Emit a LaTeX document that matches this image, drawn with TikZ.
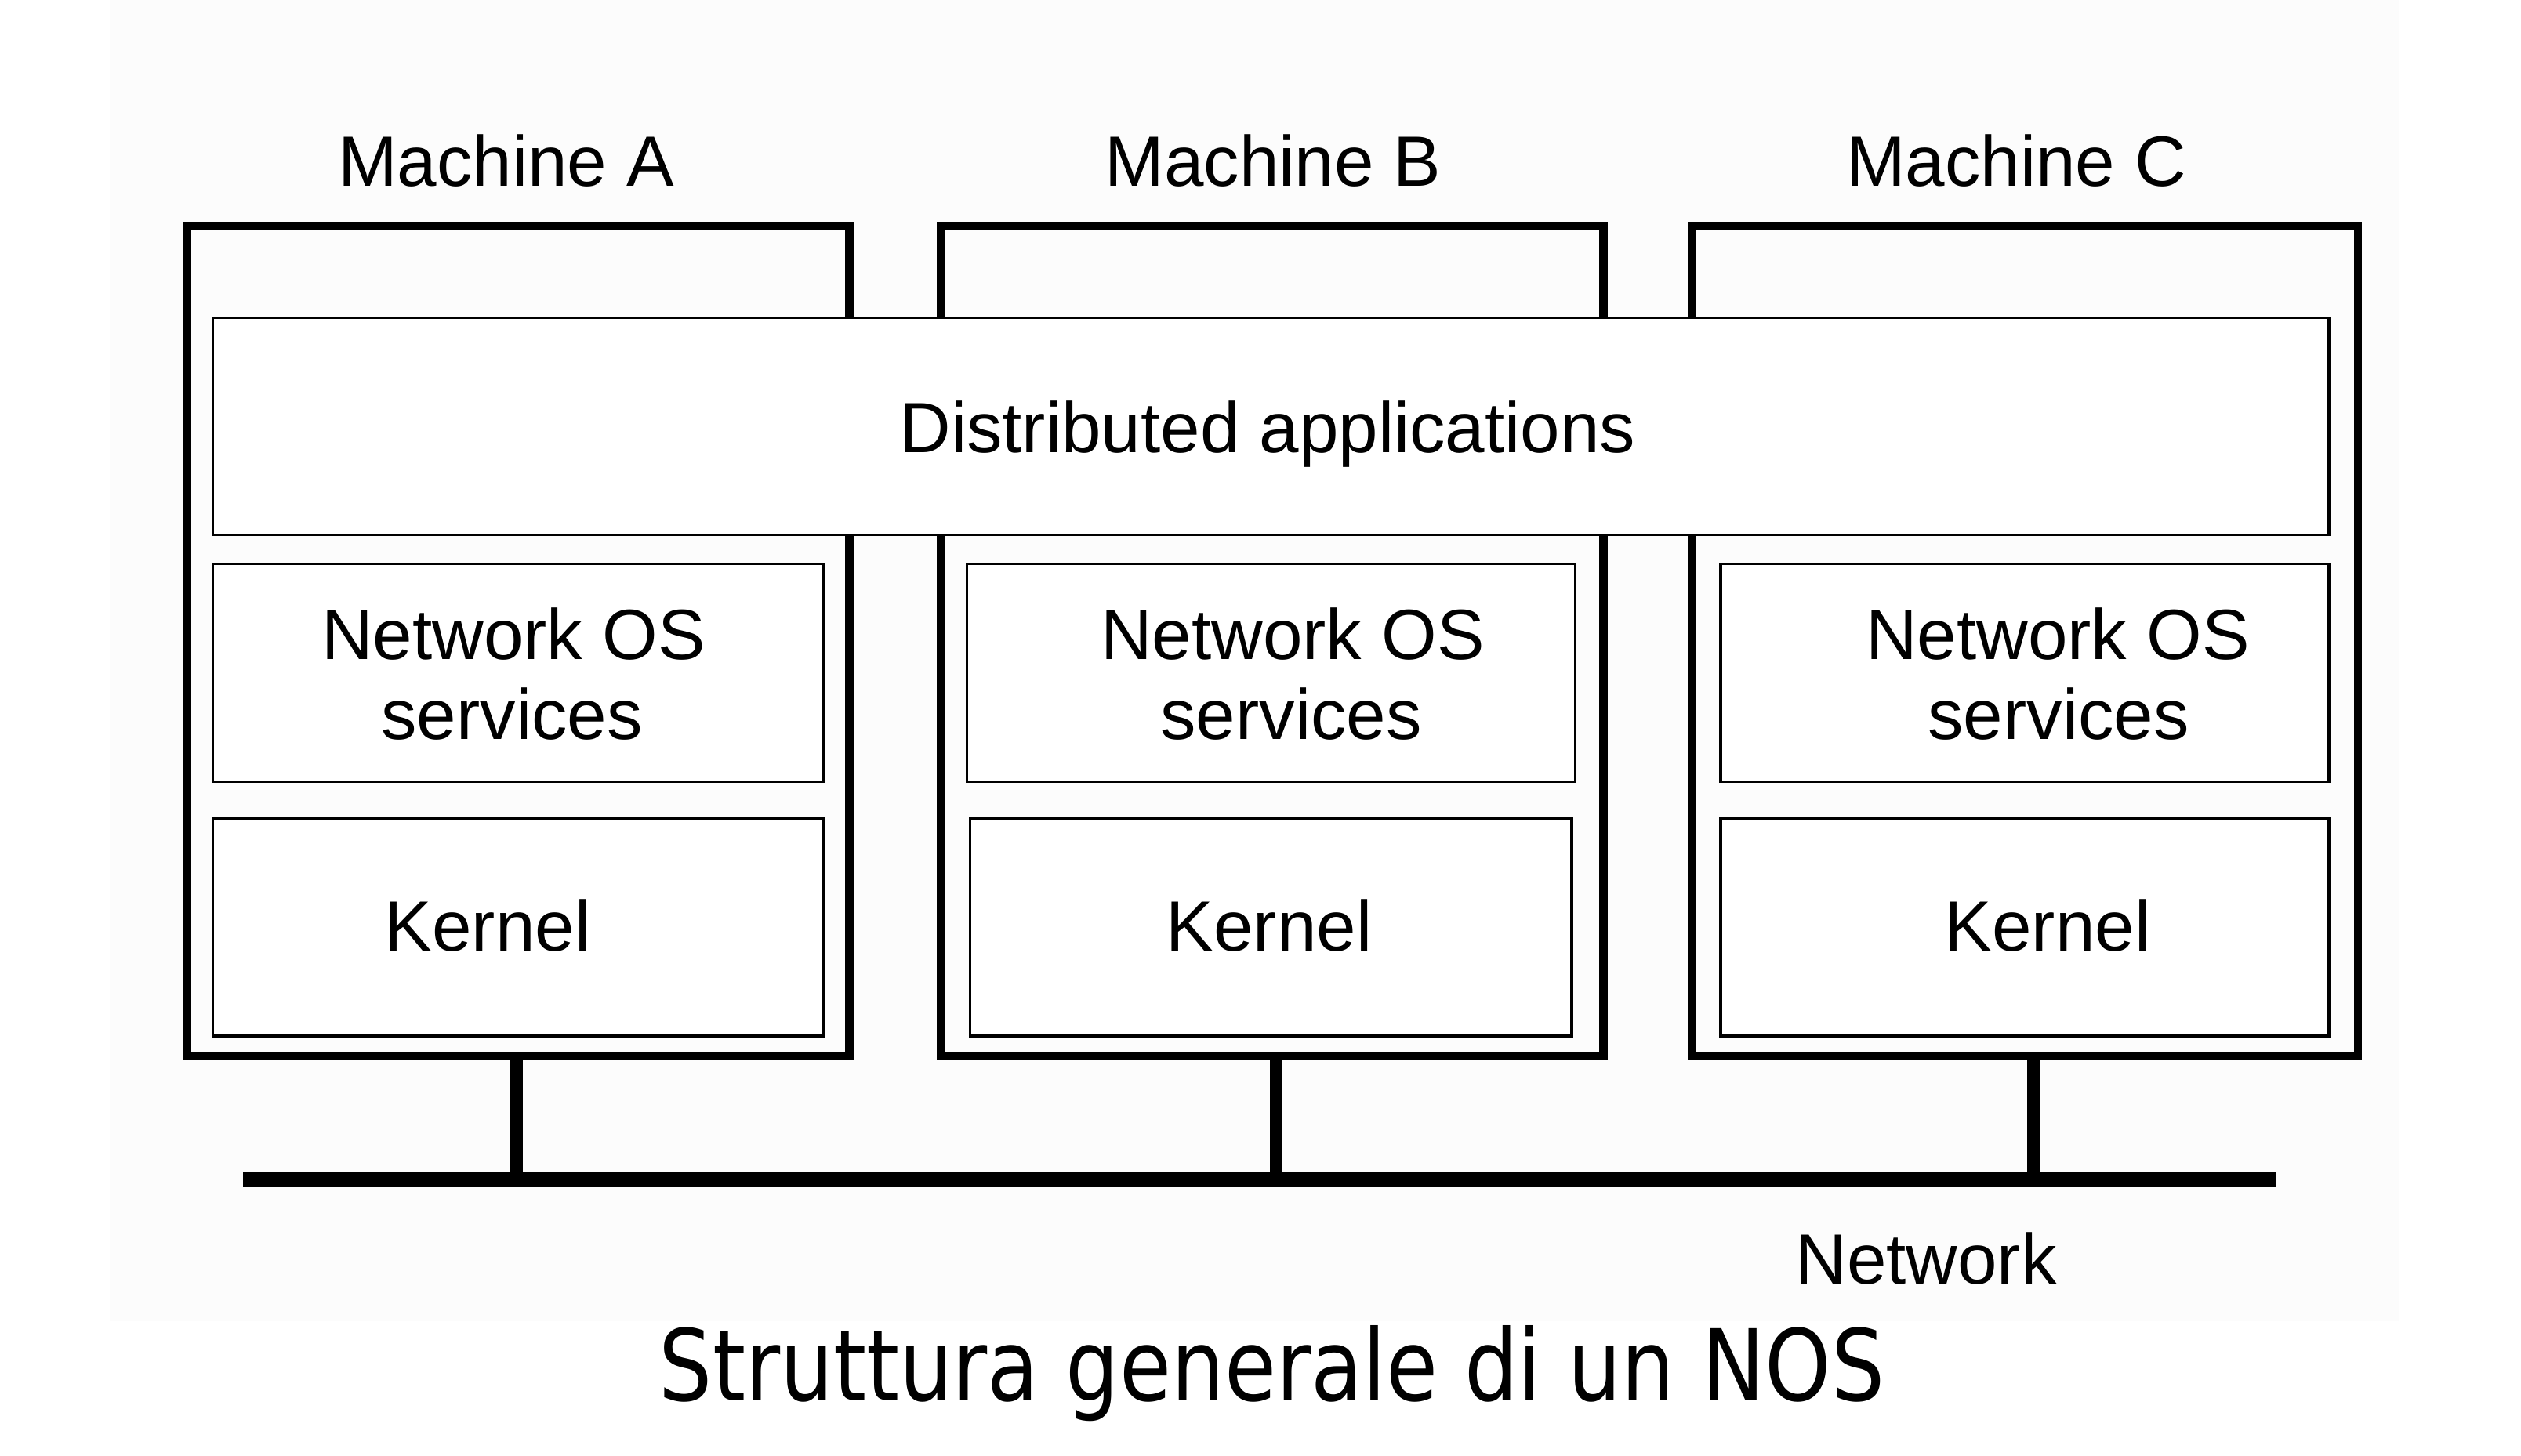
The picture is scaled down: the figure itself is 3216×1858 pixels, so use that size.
\documentclass[tikz,border=0pt]{standalone}
\usepackage{fontspec}
\setmainfont{Liberation Sans}
\newfontfamily\titlefont{DejaVu Sans}
\usetikzlibrary{fit}
\begin{document}
\begin{tikzpicture}[x=0.25pt,y=-0.25pt,
  machine/.style={draw, line width=2.6pt, inner sep=0pt},
  layer/.style={draw, line width=0.9pt, inner sep=0pt, fill=white},
  lbl/.style={font=\fontsize{22.7}{25.5}\selectfont, inner sep=0pt, anchor=base},
  conn/.style={line width=3.8pt},
  busline/.style={line width=4.75pt}]
\useasboundingbox (0,0) rectangle (3216,1858);
\fill[white] (0,0) rectangle (3216,1858);
\fill[black!1] (140,0) rectangle (3060,1686);

% machines
\node[machine, fit={(239,288.5) (1083.5,1348)}] (mA) {};
\node[machine, fit={(1200.5,288.5) (2045.5,1348)}] (mB) {};
\node[machine, fit={(2158.5,288.5) (3008,1348)}] (mC) {};

% layers
\node[layer, fit={(271.5,405.5) (2971,682.5)}] (dist) {};
\node[layer, fit={(271.5,719.5) (1051,997.5)}] (nosA) {};
\node[layer, fit={(1233.5,719.5) (2009.5,997.5)}] (nosB) {};
\node[layer, fit={(2195,719.5) (2971,997.5)}] (nosC) {};
\node[layer, fit={(271.5,1045) (1051,1322)}] (kerA) {};
\node[layer, fit={(1237.5,1045) (2005,1322)}] (kerB) {};
\node[layer, fit={(2195,1045) (2971,1322)}] (kerC) {};

% labels
\node[lbl] (labA) at (645.5,238) {Machine A};
\node[lbl] (labB) at (1624,238) {Machine B};
\node[lbl] (labC) at (2572,238) {Machine C};
\node[lbl] (distT) at (1617,578) {Distributed applications};
\node[lbl] (nosA1) at (655,842) {Network OS};
\node[lbl] (nosA2) at (653,944) {services};
\node[lbl] (nosB1) at (1649,842) {Network OS};
\node[lbl] (nosB2) at (1647,944) {services};
\node[lbl] (nosC1) at (2625,842) {Network OS};
\node[lbl] (nosC2) at (2626,944) {services};
\node[lbl] (kerAT) at (622,1214) {Kernel};
\node[lbl] (kerBT) at (1619,1214) {Kernel};
\node[lbl] (kerCT) at (2612,1214) {Kernel};
\node[lbl] (netT) at (2457,1639) {Network};

% network
\coordinate (jA) at (659,1506);
\coordinate (jB) at (1627.5,1506);
\coordinate (jC) at (2594,1506);
\coordinate (busL) at (310,1506);
\coordinate (busR) at (2903,1506);
\draw[conn] (mA.south -| jA) -- (jA);
\draw[conn] (mB.south -| jB) -- (jB);
\draw[conn] (mC.south -| jC) -- (jC);
\draw[busline] (busL) -- (busR);

% title
\node[anchor=base, inner sep=0pt] (title) at (1622.5,1788)
  {\titlefont\fontsize{31.6}{36}\selectfont\scalebox{0.85}[1]{Struttura generale di un NOS}};
\end{tikzpicture}
\end{document}
